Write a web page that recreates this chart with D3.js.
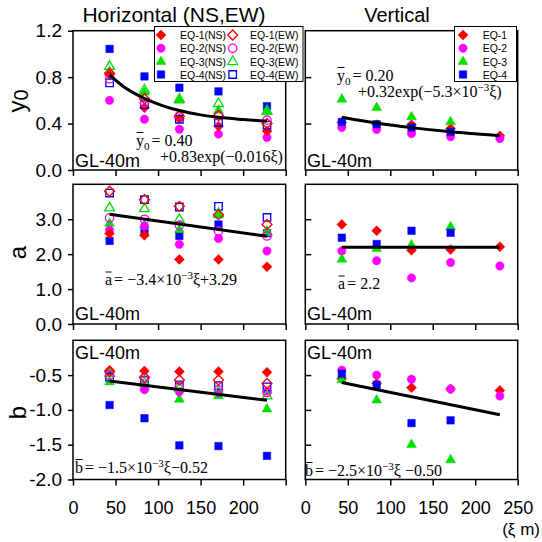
<!DOCTYPE html>
<html><head><meta charset="utf-8">
<script src="https://cdn.jsdelivr.net/npm/d3@7"></script>
<style>body{margin:0;background:#fff}svg{display:block}</style>
</head><body>
<script>
// ---------- DATA ----------
const xiH = [43, 84, 125, 171, 228];
const xiV = [43, 84, 125, 171, 229];
const xTicks = [0, 50, 100, 150, 200, 250];
const y0Ticks = [0, 0.4, 0.8, 1.2];
const aTicks = [0, 1, 2, 3];
const bTicks = [-2, -1.5, -1, -0.5];

// Horizontal y0
const y0_EQ1_NS = [0.82, 0.537, 0.443, 0.377, 0.337];
const y0_EQ1_EW = [0.834, 0.614, 0.463, 0.47, 0.40];
const y0_EQ2_NS = [0.60, 0.437, 0.351, 0.309, 0.28];
const y0_EQ2_EW = [0.786, 0.58, 0.466, 0.466, 0.429];
const y0_EQ3_NS = [0.85, 0.67, 0.60, 0.514, 0.50];
const y0_EQ3_EW = [0.891, 0.69, 0.609, 0.571, 0.509];
const y0_EQ4_NS = [1.043, 0.806, 0.709, 0.677, 0.549];
const y0_EQ4_EW = [0.751, 0.563, 0.437, 0.409, 0.386];
// Horizontal a
const a_EQ1_NS = [2.59, 2.54, 1.85, 1.85, 1.64];
const a_EQ1_EW = [3.80, 3.56, 3.37, 3.13, 2.85];
const a_EQ2_NS = [2.69, 2.80, 2.28, 2.45, 2.09];
const a_EQ2_EW = [3.04, 3.00, 2.83, 2.66, 2.52];
const a_EQ3_NS = [2.88, 2.83, 2.70, 3.12, 2.64];
const a_EQ3_EW = [3.32, 3.30, 2.99, 3.16, 2.62];
const a_EQ4_NS = [2.38, 2.62, 2.52, 2.85, 2.60];
const a_EQ4_EW = [3.75, 3.56, 3.35, 3.37, 3.05];
// Horizontal b
const b_EQ1_NS = [-0.43, -0.44, -0.45, -0.45, -0.46];
const b_EQ1_EW = [-0.45, -0.53, -0.57, -0.57, -0.62];
const b_EQ2_NS = [-0.46, -0.71, -0.74, -0.75, -0.73];
const b_EQ2_EW = [-0.50, -0.55, -0.67, -0.71, -0.75];
const b_EQ3_NS = [-0.60, -0.67, -0.85, -0.80, -0.99];
const b_EQ3_EW = [-0.48, -0.62, -0.69, -0.74, -0.80];
const b_EQ4_NS = [-0.93, -1.12, -1.51, -1.52, -1.66];
const b_EQ4_EW = [-0.53, -0.58, -0.64, -0.65, -0.67];
// Vertical
const y0V_EQ1 = [0.41, 0.39, 0.39, 0.357, 0.294];
const y0V_EQ2 = [0.366, 0.349, 0.314, 0.286, 0.271];
const y0V_EQ3 = [0.609, 0.537, 0.457, 0.414];
const y0V_EQ4 = [0.414, 0.394, 0.366, 0.329];
const aV_EQ1 = [2.85, 2.67, 2.11, 2.13, 2.21];
const aV_EQ2 = [2.09, 1.81, 1.32, 1.76, 1.66];
const aV_EQ3 = [1.85, 2.16, 2.26, 2.78];
const aV_EQ4 = [2.47, 2.29, 2.67, 2.61];
const bV_EQ1 = [-0.55, -0.62, -0.68, -0.70, -0.72];
const bV_EQ2 = [-0.43, -0.50, -0.56, -0.70, -0.80];
const bV_EQ3 = [-0.57, -0.86, -1.50, -1.72];
const bV_EQ4 = [-0.48, -0.64, -1.19, -1.15];
// Fitted curves
const fitY0H_x = [43, 60, 84, 105, 125, 150, 171, 200, 228];
const fitY0H_y = [0.82, 0.715, 0.617, 0.555, 0.512, 0.475, 0.454, 0.435, 0.42];
const fitY0V_x = [43, 84, 125, 171, 229];
const fitY0V_y = [0.455, 0.405, 0.365, 0.329, 0.295];
const fitAH_x = [43, 228], fitAH_y = [3.14, 2.51];
const fitAV_x = [43, 229], fitAV_y = [2.2, 2.2];
const fitBH_x = [43, 228], fitBH_y = [-0.585, -0.862];
const fitBV_x = [43, 229], fitBV_y = [-0.607, -1.07];

const eqNames = ["EQ-1", "EQ-2", "EQ-3", "EQ-4"];
const eqColors = ["#ff0000", "#ff00ff", "#00e000", "#0000ff"];

// ---------- SETUP ----------
const SANS = "'Liberation Sans', Arial, Helvetica, sans-serif";
const SERIF = "'Liberation Serif', 'Times New Roman', serif";
const svg = d3.select("body").append("svg").attr("width", 542).attr("height", 542);

const diamond = {draw(ctx, size){const r = Math.sqrt(size/2); ctx.moveTo(0,-r); ctx.lineTo(r,0); ctx.lineTo(0,r); ctx.lineTo(-r,0); ctx.closePath();}};
const symTypes = [diamond, d3.symbolCircle, d3.symbolTriangle, d3.symbolSquare];
const symSizes = [50, 55, 42, 56];
function symPath(i){ return d3.symbol().type(symTypes[i]).size(symSizes[i])(); }

const xL = d3.scaleLinear([0, 250], [73, 285.7]);
const xR = d3.scaleLinear([0, 250], [305.3, 517.7]);
const yTop = d3.scaleLinear([0, 1.2], [170, 30.7]);
const yMid = d3.scaleLinear([0, 4], [324, 184.3]);
const yBot = d3.scaleLinear([-2, 0], [479.5, 340.3]);

function frame(x, y){
  svg.append("rect").attr("x", x.range()[0]).attr("y", y.range()[1])
    .attr("width", x.range()[1]-x.range()[0]).attr("height", y.range()[0]-y.range()[1])
    .attr("fill", "none").attr("stroke", "#000").attr("stroke-width", 1.5);
}
function bottomAxis(x, y, labels){
  const g = svg.append("g").attr("transform", `translate(0,${y.range()[0]})`)
    .call(d3.axisBottom(x).tickValues(xTicks).tickSize(6).tickPadding(16)
      .tickFormat(d => labels.includes(d) ? String(d) : ""));
  g.select(".domain").remove();
  g.selectAll("line").attr("stroke", "#000").attr("stroke-width", 1.5);
  g.selectAll("text").attr("font-family", SANS).attr("font-size", 18).attr("fill", "#000");
}
function leftAxis(x, y, ticks){
  const g = svg.append("g").attr("transform", `translate(${x.range()[0]},0)`)
    .call(d3.axisLeft(y).tickValues(ticks).tickSize(5).tickPadding(6).tickFormat(d => d.toFixed(1)));
  g.select(".domain").remove();
  g.selectAll("line").attr("stroke", "#000").attr("stroke-width", 1.5);
  g.selectAll("text").attr("font-family", SANS).attr("font-size", 19).attr("fill", "#000");
}
function innerAxis(x, y, ticks){
  const g = svg.append("g").attr("transform", `translate(${x.range()[0]},0)`)
    .call(d3.axisRight(y).tickValues(ticks).tickSize(6).tickFormat(""));
  g.select(".domain").remove();
  g.selectAll("line").attr("stroke", "#000").attr("stroke-width", 1.5);
}
function points(x, y, xs, vals, eq, open){
  svg.append("g").selectAll("path").data(vals).join("path")
    .attr("transform", (d, i) => `translate(${x(xs[i])},${y(d)})`)
    .attr("d", symPath(eq))
    .attr("fill", open ? "none" : eqColors[eq])
    .attr("stroke", eqColors[eq]).attr("stroke-width", open ? 1.3 : 0.5);
}
function fit(x, y, xs, ys){
  svg.append("path").datum(xs.map((d, i) => [d, ys[i]]))
    .attr("d", d3.line().x(d => x(d[0])).y(d => y(d[1])).curve(d3.curveMonotoneX))
    .attr("fill", "none").attr("stroke", "#000").attr("stroke-width", 3);
}
function gl(x, base){
  svg.append("text").attr("x", x).attr("y", base).text("GL-40m")
    .attr("font-family", SANS).attr("font-size", 18).attr("fill", "#000");
}
// formula: each part is its own text element laid out left to right;
// barH draws an overline bar over the first part
function formula(x, y, parts, barH){
  let cx = x;
  parts.forEach((p, k) => {
    const shift = p.sub ? 4 : p.sup ? -6 : 0;
    const t = svg.append("text").attr("x", cx).attr("y", y + shift).text(p.t)
      .attr("font-family", SERIF).attr("font-size", (p.sub || p.sup) ? 11 : 16).attr("fill", "#000");
    const w = t.node().getComputedTextLength();
    if (k === 0 && barH) {
      svg.append("line").attr("x1", cx + 0.5).attr("x2", cx + w - 0.5)
        .attr("y1", y - barH).attr("y2", y - barH).attr("stroke", "#000").attr("stroke-width", 1);
    }
    cx += w + (p.gap || 0);
  });
}

// ---------- PANELS ----------
[[xL,yTop],[xR,yTop],[xL,yMid],[xR,yMid],[xL,yBot],[xR,yBot]].forEach(([x,y]) => frame(x,y));
bottomAxis(xL, yTop, []); bottomAxis(xR, yTop, []);
bottomAxis(xL, yMid, []); bottomAxis(xR, yMid, []);
bottomAxis(xL, yBot, [0, 50, 100, 150, 200]); bottomAxis(xR, yBot, [0, 50, 100, 150, 200, 250]);
leftAxis(xL, yTop, y0Ticks); leftAxis(xL, yMid, aTicks); leftAxis(xL, yBot, bTicks);
innerAxis(xR, yTop, [0.4, 0.8]); innerAxis(xR, yMid, [1, 2, 3]); innerAxis(xR, yBot, [-1.5, -1, -0.5]);

const hY0NS = [y0_EQ1_NS, y0_EQ2_NS, y0_EQ3_NS, y0_EQ4_NS], hY0EW = [y0_EQ1_EW, y0_EQ2_EW, y0_EQ3_EW, y0_EQ4_EW];
const hANS = [a_EQ1_NS, a_EQ2_NS, a_EQ3_NS, a_EQ4_NS], hAEW = [a_EQ1_EW, a_EQ2_EW, a_EQ3_EW, a_EQ4_EW];
const hBNS = [b_EQ1_NS, b_EQ2_NS, b_EQ3_NS, b_EQ4_NS], hBEW = [b_EQ1_EW, b_EQ2_EW, b_EQ3_EW, b_EQ4_EW];
[[yTop, hY0NS, hY0EW], [yMid, hANS, hAEW], [yBot, hBNS, hBEW]].forEach(([y, ns, ew]) => {
  [3, 2, 1, 0].forEach(i => points(xL, y, xiH, ns[i], i, false));
  [3, 2, 1, 0].forEach(i => points(xL, y, xiH, ew[i], i, true));
});
const vY0 = [y0V_EQ1, y0V_EQ2, y0V_EQ3, y0V_EQ4], vA = [aV_EQ1, aV_EQ2, aV_EQ3, aV_EQ4], vB = [bV_EQ1, bV_EQ2, bV_EQ3, bV_EQ4];
[[yTop, vY0], [yMid, vA], [yBot, vB]].forEach(([y, s]) => {
  [0, 1, 2, 3].forEach(i => points(xR, y, xiV, s[i], i, false));
});

fit(xL, yTop, fitY0H_x, fitY0H_y); fit(xR, yTop, fitY0V_x, fitY0V_y);
fit(xL, yMid, fitAH_x, fitAH_y); fit(xR, yMid, fitAV_x, fitAV_y);
fit(xL, yBot, fitBH_x, fitBH_y); fit(xR, yBot, fitBV_x, fitBV_y);

gl(75, 166.5); gl(307, 166.5);
gl(75, 319.5); gl(307, 319.5);
gl(75, 359); gl(307, 359);

formula(136, 145.5, [{t:"y"}, {t:"0", sub:true, gap:2}, {t:"= 0.40"}], 13);
formula(160, 162, [{t:"+0.83exp(−0.016ξ)"}]);
formula(337, 80.5, [{t:"y"}, {t:"0", sub:true, gap:2}, {t:"= 0.20"}], 13);
formula(358, 97, [{t:"+0.32exp(−5.3×10"}, {t:"−3", sup:true}, {t:"ξ)"}]);
formula(105, 285, [{t:"a", gap:2}, {t:"= −3.4×10"}, {t:"−3", sup:true}, {t:"ξ+3.29"}], 13);
formula(338, 289, [{t:"a", gap:2}, {t:"= 2.2"}], 13);
formula(75, 473, [{t:"b", gap:2}, {t:"= −1.5×10"}, {t:"−3", sup:true}, {t:"ξ−0.52"}], 13.5);
formula(305, 476, [{t:"b", gap:2}, {t:"= −2.5×10"}, {t:"−3", sup:true}, {t:"ξ −0.50"}], 13.5);

svg.append("text").attr("x", 174).attr("y", 22).attr("text-anchor", "middle").text("Horizontal (NS,EW)")
  .attr("font-family", SANS).attr("font-size", 21).attr("fill", "#000");
svg.append("text").attr("x", 397).attr("y", 22).attr("text-anchor", "middle").text("Vertical")
  .attr("font-family", SANS).attr("font-size", 20).attr("fill", "#000");
const yt = svg.append("text").attr("transform", "translate(25,101) rotate(-90)").attr("text-anchor", "middle")
  .attr("font-family", SANS).attr("font-size", 24).attr("fill", "#000");
yt.append("tspan").text("y"); yt.append("tspan").text("0").attr("font-size", 20).attr("dy", 3);
svg.append("text").attr("transform", "translate(26,252.5) rotate(-90)").attr("text-anchor", "middle").text("a")
  .attr("font-family", SANS).attr("font-size", 24).attr("fill", "#000");
svg.append("text").attr("transform", "translate(25.5,412.5) rotate(-90)").attr("text-anchor", "middle").text("b")
  .attr("font-family", SANS).attr("font-size", 24).attr("fill", "#000");
svg.append("text").attr("x", 540).attr("y", 535).attr("text-anchor", "end").text("(ξ m)")
  .attr("font-family", SANS).attr("font-size", 17).attr("fill", "#000");

// ---------- LEGENDS ----------
const legRows = [35, 48.3, 61.7, 74.5];
svg.append("rect").attr("x", 154.5).attr("y", 26.5).attr("width", 148.5).attr("height", 55)
  .attr("fill", "#fff").attr("stroke", "#000").attr("stroke-width", 1);
eqNames.forEach((n, i) => {
  [[161, 180, "(NS)", false], [232.7, 250, "(EW)", true]].forEach(([mx, tx, suf, open]) => {
    svg.append("path").attr("transform", `translate(${mx},${legRows[i]})`).attr("d", symPath(i))
      .attr("fill", open ? "none" : eqColors[i]).attr("stroke", eqColors[i]).attr("stroke-width", open ? 1.3 : 0.5);
    svg.append("text").attr("x", tx).attr("y", legRows[i] + 4).text(n + suf)
      .attr("font-family", SANS).attr("font-size", 10.5).attr("fill", "#000");
  });
});
svg.append("rect").attr("x", 454.5).attr("y", 26.5).attr("width", 62).attr("height", 55)
  .attr("fill", "#fff").attr("stroke", "#000").attr("stroke-width", 1);
eqNames.forEach((n, i) => {
  svg.append("path").attr("transform", `translate(463,${legRows[i]})`).attr("d", symPath(i))
    .attr("fill", eqColors[i]).attr("stroke", eqColors[i]).attr("stroke-width", 0.5);
  svg.append("text").attr("x", 482.7).attr("y", legRows[i] + 4).text(n)
    .attr("font-family", SANS).attr("font-size", 10.5).attr("fill", "#000");
});
</script>
</body></html>
